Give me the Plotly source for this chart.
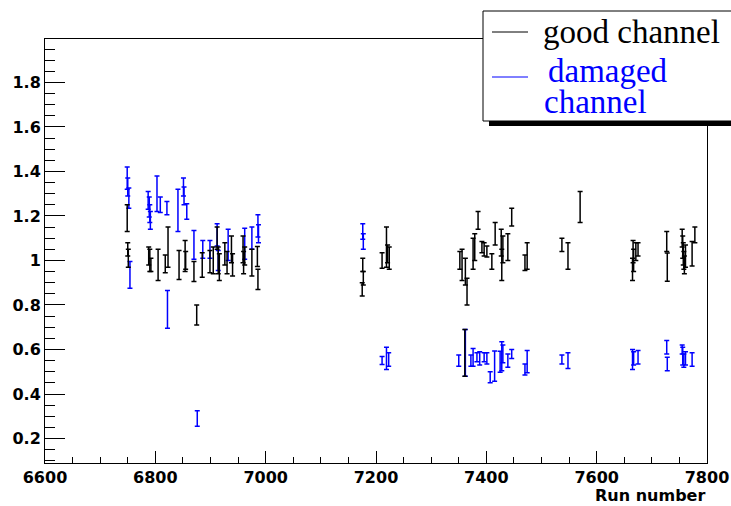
import plotly.graph_objects as go

# ---------------- data ----------------
good_run = [6749, 6750, 6751, 6788, 6790, 6792, 6805, 6818, 6823, 6843, 6854, 6855,
            6870, 6875, 6885, 6899, 6905, 6912, 6914, 6916, 6926, 6930, 6938, 6940,
            6959, 6960, 6962, 6975, 6985, 6986,
            7175, 7176, 7177, 7211, 7219, 7221, 7224,
            7352, 7356, 7362, 7365, 7361, 7376, 7379, 7385, 7392, 7396, 7401, 7410,
            7416, 7427, 7428, 7430, 7439, 7446, 7470, 7474, 7537, 7548, 7570,
            7665, 7666, 7667, 7671, 7675, 7727, 7728, 7755, 7756, 7757, 7758, 7759,
            7761, 7773, 7778]
good_val = [1.19, 1.05, 1.01, 1.02, 1.00, 0.98, 0.98, 0.985, 1.06, 0.98, 1.02, 1.00,
            0.95, 0.755, 0.98, 0.995, 1.00, 1.10, 1.00, 0.97, 1.03, 0.99, 1.05, 0.98,
            1.05, 0.99, 1.02, 0.99, 1.018, 0.915,
            0.87, 0.98, 0.92, 1.00, 1.06, 1.03, 1.01,
            1.00, 0.98, 0.95, 0.86, 0.585, 1.03, 1.06, 1.18, 1.06, 1.05, 1.04, 0.995,
            1.12, 1.08, 0.98, 1.05, 1.06, 1.195, 0.99, 1.02, 1.07, 1.02, 1.24,
            0.96, 1.04, 1.00, 1.04, 1.05, 1.085, 0.97, 1.10, 1.06, 1.03, 1.00, 0.98,
            1.02, 1.03, 1.115]
good_err = [0.06, 0.03, 0.04, 0.04, 0.05, 0.03, 0.07, 0.04, 0.09, 0.065, 0.07, 0.04,
            0.045, 0.045, 0.055, 0.05, 0.06, 0.05, 0.06, 0.06, 0.05, 0.05, 0.06, 0.05,
            0.06, 0.05, 0.04, 0.06, 0.045, 0.045,
            0.03, 0.03, 0.03, 0.035, 0.09, 0.04, 0.05,
            0.04, 0.07, 0.06, 0.06, 0.105, 0.07, 0.06, 0.04, 0.025, 0.03, 0.025, 0.035,
            0.05, 0.06, 0.07, 0.06, 0.06, 0.04, 0.035, 0.06, 0.03, 0.06, 0.07,
            0.05, 0.05, 0.05, 0.04, 0.03, 0.045, 0.063, 0.04, 0.05, 0.05, 0.04, 0.04,
            0.05, 0.055, 0.035]

dam_run = [6749, 6750, 6752, 6754, 6787, 6789, 6790, 6791, 6803, 6809, 6821, 6822,
           6841, 6851, 6852, 6857, 6870, 6876, 6886, 6899, 6912, 6914, 6932, 6962,
           6975, 6986, 6987,
           7176, 7177, 7211, 7219, 7223,
           7350, 7362, 7372, 7376, 7383, 7388, 7396, 7401, 7407, 7415, 7425, 7428,
           7430, 7439, 7446, 7470, 7474, 7537, 7548,
           7665, 7667, 7675, 7727, 7728, 7755, 7756, 7758, 7761, 7773]
dam_val = [1.37, 1.33, 1.28, 0.935, 1.27, 1.24, 1.21, 1.18, 1.30, 1.25, 1.235, 0.78,
           1.225, 1.33, 1.29, 1.22, 1.07, 0.29, 1.05, 1.05, 1.115, 1.00, 1.07, 1.075,
           1.10, 1.155, 1.12,
           1.13, 1.085, 0.55, 0.56, 0.555,
           0.55, 0.585, 0.55, 0.565, 0.565, 0.56, 0.565, 0.56, 0.475, 0.525, 0.545, 0.57,
           0.58, 0.55, 0.58, 0.51, 0.545, 0.555, 0.55,
           0.555, 0.56, 0.565, 0.61, 0.535, 0.60, 0.57, 0.55, 0.56, 0.555]
dam_err = [0.05, 0.04, 0.045, 0.06, 0.04, 0.045, 0.04, 0.04, 0.08, 0.035, 0.03, 0.085,
           0.095, 0.04, 0.04, 0.035, 0.065, 0.035, 0.04, 0.04, 0.05, 0.045, 0.07, 0.07,
           0.05, 0.05, 0.04,
           0.035, 0.035, 0.018, 0.05, 0.03,
           0.025, 0.105, 0.025, 0.04, 0.02, 0.03, 0.02, 0.025, 0.025, 0.068, 0.047, 0.065,
           0.04, 0.03, 0.02, 0.025, 0.05, 0.02, 0.035,
           0.045, 0.03, 0.03, 0.03, 0.03, 0.02, 0.04, 0.03, 0.03, 0.03]

x_ticks = [6600, 6800, 7000, 7200, 7400, 7600, 7800]
y_ticks = [0.2, 0.4, 0.6, 0.8, 1.0, 1.2, 1.4, 1.6, 1.8]
y_ticktext = ["0.2", "0.4", "0.6", "0.8", "1", "1.2", "1.4", "1.6", "1.8"]
legend_labels = ["good channel", "damaged", "channel"]

# ---------------- layout geometry (pixels) ----------------
W, H = 731, 506
L, R, T, B = 45, 707, 39, 463


def px_x(p):
    return (p - L) / (R - L)


def px_y(p):
    return (B - p) / (B - T)


fig = go.Figure()
fig.add_trace(go.Scatter(
    x=dam_run, y=dam_val, mode="markers",
    marker=dict(size=1, color="rgba(0,0,255,0)"),
    error_y=dict(type="data", array=dam_err, color="#0000ff", thickness=1.5, width=2.5),
    showlegend=False, hoverinfo="skip"))
fig.add_trace(go.Scatter(
    x=good_run, y=good_val, mode="markers",
    marker=dict(size=1, color="rgba(0,0,0,0)"),
    error_y=dict(type="data", array=good_err, color="#000000", thickness=1.5, width=2.5),
    showlegend=False, hoverinfo="skip"))

tick_font = dict(family="DejaVu Sans", size=16, color="black")

fig.update_layout(
    width=W, height=H,
    margin=dict(l=L, r=W - R, t=T, b=H - B, pad=0, autoexpand=False),
    paper_bgcolor="white", plot_bgcolor="white",
    showlegend=False,
    xaxis=dict(
        range=[6600, 7800], tickmode="array", tickvals=x_ticks,
        ticktext=[f"<b>{v}</b>" for v in x_ticks],
        ticks="inside", ticklen=12, tickwidth=1, tickcolor="black",
        minor=dict(dtick=50, tick0=6600, ticks="inside", ticklen=6, tickcolor="black", showgrid=False),
        showline=True, linecolor="black", linewidth=1, mirror=True,
        showgrid=False, zeroline=False, tickfont=tick_font, automargin=False,
    ),
    yaxis=dict(
        range=[0.09, 1.995], tickmode="array", tickvals=y_ticks,
        ticktext=[f"<b>{t}</b>" for t in y_ticktext],
        ticks="inside", ticklen=20, tickwidth=1, tickcolor="black",
        minor=dict(dtick=0.05, tick0=0, ticks="inside", ticklen=10, tickcolor="black", showgrid=False),
        showline=True, linecolor="black", linewidth=1, mirror=True,
        showgrid=False, zeroline=False, tickfont=tick_font, automargin=False,
    ),
)

shapes = [
    # legend shadow
    dict(type="rect", xref="paper", yref="paper",
         x0=px_x(489), x1=px_x(750), y0=px_y(126), y1=px_y(121),
         fillcolor="black", line=dict(width=0), layer="above"),
    # legend box
    dict(type="rect", xref="paper", yref="paper",
         x0=px_x(483), x1=px_x(750), y0=px_y(121), y1=px_y(11),
         fillcolor="white", line=dict(color="black", width=1), layer="above"),
    # legend samples
    dict(type="line", xref="paper", yref="paper",
         x0=px_x(492), x1=px_x(528), y0=px_y(32), y1=px_y(32),
         line=dict(color="black", width=1), layer="above"),
    dict(type="line", xref="paper", yref="paper",
         x0=px_x(492), x1=px_x(528), y0=px_y(77), y1=px_y(77),
         line=dict(color="#0000ff", width=1), layer="above"),
]
fig.update_layout(shapes=shapes)

serif = "Liberation Serif"
annotations = [
    dict(text=legend_labels[0], x=px_x(541), y=px_y(32), xref="paper", yref="paper",
         xanchor="left", yanchor="middle", showarrow=False,
         font=dict(family=serif, size=33, color="black")),
    dict(text=legend_labels[1], x=px_x(546), y=px_y(71), xref="paper", yref="paper",
         xanchor="left", yanchor="middle", showarrow=False,
         font=dict(family=serif, size=33, color="#0000ff")),
    dict(text=legend_labels[2], x=px_x(542), y=px_y(102), xref="paper", yref="paper",
         xanchor="left", yanchor="middle", showarrow=False,
         font=dict(family=serif, size=33, color="#0000ff")),
    dict(text="<b>Run number</b>", x=px_x(707), y=px_y(495), xref="paper", yref="paper",
         xanchor="right", yanchor="middle", showarrow=False,
         font=dict(family="DejaVu Sans", size=16, color="black")),
]
fig.update_layout(annotations=annotations)

fig.write_html("out.html")
